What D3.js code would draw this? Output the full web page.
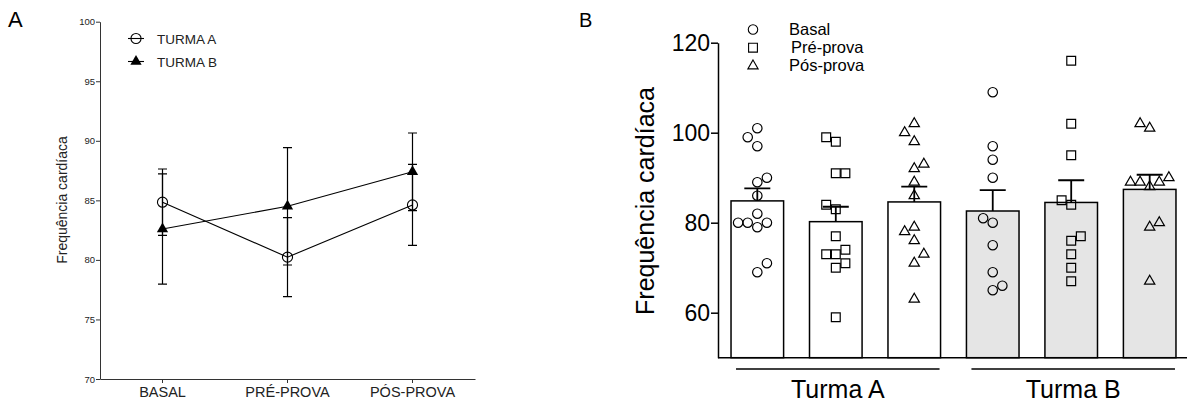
<!DOCTYPE html>
<html>
<head>
<meta charset="utf-8">
<script src="https://cdn.jsdelivr.net/npm/d3@7"></script>
<style>
	body { margin: 0; background: #fff; }
	svg { display: block; font-family: "Liberation Sans", Arial, sans-serif; }
</style>
</head>
<body>
<svg width="1187" height="407"></svg>
<script>
// data..........................................................................

var stages = ["BASAL", "PRÉ-PROVA", "PÓS-PROVA"],
	phases = ["Basal", "Pré-prova", "Pós-prova"],
	groups = ["Turma A", "Turma B"],
	ticksA = [70, 75, 80, 85, 90, 95, 100],
	ticksB = [60, 80, 100, 120];

// heart rate of each student
var aBasal = [101, 99, 97, 90, 89, 86, 82, 80, 80, 79, 80, 71, 69],
	aPre   = [99, 98, 91, 91, 84, 83, 77, 74, 73, 73, 71, 70, 59],
	aPos   = [102, 100, 98, 93, 92, 89, 86, 79, 78, 76, 73, 71, 63],
	bBasal = [109, 97, 94, 90, 81, 80, 75, 69, 66, 65],
	bPre   = [116, 102, 95, 85, 84, 77, 76, 73, 70, 67],
	bPos   = [102, 101, 90, 89, 88, 89, 89, 80, 79, 67];

// global variables..............................................................

var svg = d3.select("svg"),
	black = "#000", axisColor = "#333",
	symbols = [d3.symbolCircle, d3.symbolSquare, d3.symbolTriangle],
	symbolSizes = [70, 78, 46];

function stats(values) {
	return {
		mean: d3.mean(values),
		sem: d3.deviation(values) / Math.sqrt(values.length)
	};
}

var turmas = [
	{name: "TURMA A", series: [aBasal, aPre, aPos].map(stats)},
	{name: "TURMA B", series: [bBasal, bPre, bPos].map(stats)}
];

var bars = [];
[[aBasal, aPre, aPos], [bBasal, bPre, bPos]].forEach(function(set, g) {
	set.forEach(function(values, p) {
		var s = stats(values);
		bars.push({id: g + "-" + p, group: g, phase: p, values: values,
			mean: s.mean, sem: s.sem});
	});
});

drawPanelA();
drawPanelB();

// panel A.......................................................................

function drawPanelA() {
	var g = svg.append("g"),
		x = d3.scaleBand().domain(stages).range([100, 475]),
		y = d3.scaleLinear().domain([70, 100]).range([379, 21.7]),
		cx = function(i) { return x(stages[i]) + x.bandwidth() / 2; };

	g.append("text")
		.attr("x", 8).attr("y", 27)
		.style("font-size", "22px")
		.text("A");

	var yAxis = g.append("g")
		.attr("transform", "translate(100,0)")
		.call(d3.axisLeft(y).tickValues(ticksA).tickSize(4).tickSizeOuter(0).tickPadding(1));
	yAxis.selectAll("text").style("font-size", "9.5px").attr("fill", "#222");

	var xAxis = g.append("g")
		.attr("transform", "translate(0,379)")
		.call(d3.axisBottom(x).tickSize(4).tickSizeOuter(0).tickPadding(4));
	xAxis.selectAll("text").style("font-size", "14.5px").attr("fill", "#222");

	g.selectAll(".domain, .tick line").attr("stroke", axisColor);

	g.append("text")
		.attr("transform", "translate(67,200) rotate(-90)")
		.attr("text-anchor", "middle")
		.style("font-size", "14px")
		.attr("fill", "#222")
		.text("Frequência cardíaca");

	var line = d3.line()
		.x(function(d, i) { return cx(i); })
		.y(function(d) { return y(d.mean); });

	turmas.forEach(function(t, k) {
		var tg = g.append("g");

		// error bars
		tg.selectAll("path.err")
			.data(t.series)
			.enter().append("path")
			.attr("class", "err")
			.attr("fill", "none")
			.attr("stroke", black)
			.attr("stroke-width", 1.2)
			.attr("d", function(d, i) {
				var px = cx(i), hi = y(d.mean + d.sem), lo = y(d.mean - d.sem);
				return "M" + (px - 4.5) + "," + hi + "H" + (px + 4.5) +
					"M" + px + "," + hi + "V" + lo +
					"M" + (px - 4.5) + "," + lo + "H" + (px + 4.5);
			});

		tg.append("path")
			.datum(t.series)
			.attr("fill", "none")
			.attr("stroke", black)
			.attr("stroke-width", 1.1)
			.attr("d", line);

		tg.selectAll("path.mark")
			.data(t.series)
			.enter().append("path")
			.attr("class", "mark")
			.attr("transform", function(d, i) {
				return "translate(" + cx(i) + "," + y(d.mean) + ")"; })
			.call(markerA, k);
	});

	// legend
	var legend = g.selectAll("g.legend")
		.data(turmas)
		.enter().append("g")
		.attr("class", "legend")
		.attr("transform", function(d, i) {
			return "translate(136," + (38.5 + i * 23) + ")"; });
	legend.append("line")
		.attr("x1", -8).attr("x2", 8)
		.attr("stroke", black).attr("stroke-width", 1.1);
	legend.append("path")
		.each(function(d, i) { d3.select(this).call(markerA, i); });
	legend.append("text")
		.attr("x", 21).attr("y", 5)
		.style("font-size", "13.5px")
		.attr("fill", "#222")
		.text(function(d) { return d.name; });
}

function markerA(sel, k) {
	if (k === 0)
		sel.attr("d", d3.symbol(d3.symbolCircle, 80)())
			.attr("fill", "none")
			.attr("stroke", black)
			.attr("stroke-width", 1.1);
	else
		sel.attr("d", d3.symbol(d3.symbolTriangle, 55)())
			.attr("fill", black)
			.attr("stroke", "none");
}

// panel B.......................................................................

function drawPanelB() {
	var g = svg.append("g"),
		x = d3.scaleBand()
			.domain(bars.map(function(d) { return d.id; }))
			.range([718, 1189])
			.paddingInner(0.33)
			.paddingOuter(0.166),
		y = d3.scaleLinear().domain([50, 120]).range([357.7, 42.7]),
		bw = x.bandwidth();

	g.append("text")
		.attr("x", 579).attr("y", 27)
		.style("font-size", "20px")
		.text("B");

	// bars
	g.selectAll("rect.bar")
		.data(bars)
		.enter().append("rect")
		.attr("class", "bar")
		.attr("x", function(d) { return x(d.id); })
		.attr("y", function(d) { return y(d.mean); })
		.attr("width", bw)
		.attr("height", function(d) { return y(50) - y(d.mean); })
		.attr("fill", function(d) { return d.group === 0 ? "#fff" : "#e5e5e5"; })
		.attr("stroke", black)
		.attr("stroke-width", 1.5);

	// error bars (upper only)
	g.selectAll("path.err")
		.data(bars)
		.enter().append("path")
		.attr("class", "err")
		.attr("fill", "none")
		.attr("stroke", black)
		.attr("stroke-width", 1.8)
		.attr("d", function(d) {
			var px = x(d.id) + bw / 2, hi = y(d.mean + d.sem);
			return "M" + px + "," + y(d.mean) + "V" + hi +
				"M" + (px - 13) + "," + hi + "H" + (px + 13);
		});

	// individual points
	bars.forEach(function(b) {
		var offsets = swarm(b.values, y, 9.6, 9.5),
			px = x(b.id) + bw / 2;
		g.append("g").selectAll("path")
			.data(b.values)
			.enter().append("path")
			.attr("d", d3.symbol(symbols[b.phase], symbolSizes[b.phase])())
			.attr("transform", function(d, i) {
				return "translate(" + (px + offsets[i]) + "," + y(d) + ")"; })
			.attr("fill", "none")
			.attr("stroke", black)
			.attr("stroke-width", 1.2);
	});

	// axes
	var yAxis = g.append("g")
		.attr("transform", "translate(718,0)")
		.call(d3.axisLeft(y).tickValues(ticksB).tickSize(7).tickSizeOuter(0).tickPadding(1));
	yAxis.selectAll("text").style("font-size", "23px").attr("fill", black);
	yAxis.selectAll(".domain, .tick line").attr("stroke", black).attr("stroke-width", 1.5);

	g.append("line")
		.attr("x1", 718).attr("x2", 1187)
		.attr("y1", y(50)).attr("y2", y(50))
		.attr("stroke", black).attr("stroke-width", 1.5);

	g.append("text")
		.attr("transform", "translate(654,201) rotate(-90)")
		.attr("text-anchor", "middle")
		.style("font-size", "25px")
		.text("Frequência cardíaca");

	// group labels under the bars
	groups.forEach(function(name, gi) {
		var ids = bars.filter(function(d) { return d.group === gi; })
				.map(function(d) { return d.id; }),
			x0 = x(ids[0]) + 5,
			x1 = x(ids[ids.length - 1]) + bw - 1;
		g.append("line")
			.attr("x1", x0).attr("x2", x1)
			.attr("y1", 369).attr("y2", 369)
			.attr("stroke", black).attr("stroke-width", 1.5);
		g.append("text")
			.attr("x", (x0 + x1) / 2).attr("y", 398)
			.attr("text-anchor", "middle")
			.style("font-size", "25px")
			.text(name);
	});

	// legend
	var legend = g.selectAll("g.legend")
		.data(phases)
		.enter().append("g")
		.attr("class", "legend")
		.attr("transform", function(d, i) {
			return "translate(753," + (29.5 + i * 18.2) + ")"; });
	legend.append("path")
		.attr("d", function(d, i) { return d3.symbol(symbols[i], symbolSizes[i])(); })
		.attr("fill", "none")
		.attr("stroke", black)
		.attr("stroke-width", 1.1);
	legend.append("text")
		.attr("x", function(d, i) { return i === 1 ? 38 : 36; })
		.attr("y", 5.5)
		.style("font-size", "16.5px")
		.text(function(d) { return d; });
}

// greedy beeswarm: lowest values first, alternating sides
function swarm(values, y, step, diam) {
	var placed = [], offsets = [], side = 1;

	d3.range(values.length)
		.sort(function(a, b) { return values[a] - values[b]; })
		.forEach(function(i) {
			var cy = y(values[i]), k = 0, dx;
			while (true) {
				dx = k === 0 ? 0 : (k % 2 ? side : -side) * Math.ceil(k / 2) * step;
				var hit = placed.some(function(p) {
					return Math.hypot(p[0] - dx, p[1] - cy) < diam; });
				if (!hit) break;
				k++;
			}
			if (dx !== 0) side = dx > 0 ? -1 : 1;
			placed.push([dx, cy]);
			offsets[i] = dx;
		});
	return offsets;
}
</script>
</body>
</html>
